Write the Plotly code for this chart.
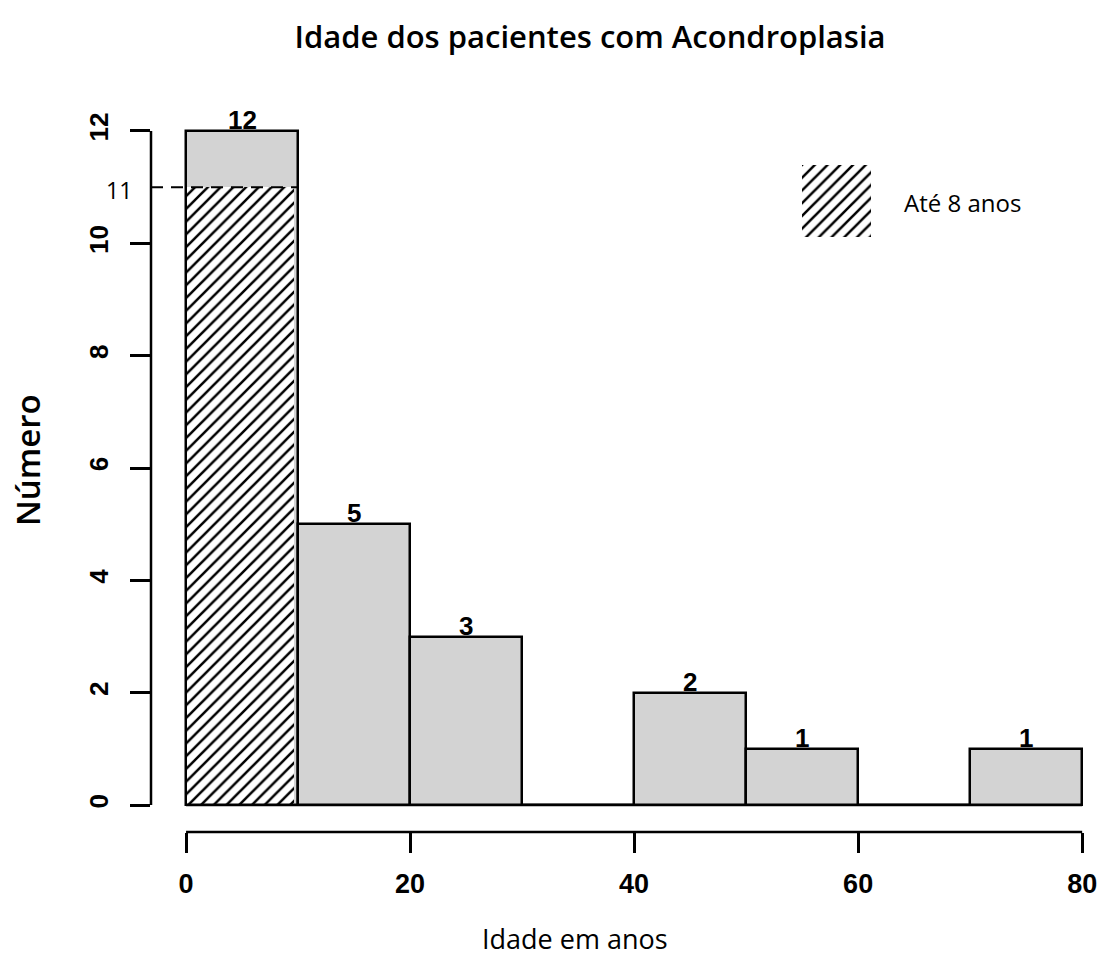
import plotly.graph_objects as go

# ---- data ----
bin_left = [0, 10, 20, 30, 40, 50, 60, 70]
bin_width = 10
counts = [12, 5, 3, 0, 2, 1, 0, 1]
hatched_count = 11          # patients up to 8 years (inside first bin)
x_ticks = [0, 20, 40, 60, 80]
y_ticks = [0, 2, 4, 6, 8, 10, 12]
title_text = "Idade dos pacientes com Acondroplasia"
x_title = "Idade em anos"
y_title = "Número"
legend_text = "Até 8 anos"

# ---- layout constants ----
W, H = 1099, 968
ML, MR, MT, MB = 151, 9, 104, 136
PW, PH = W - ML - MR, H - MT - MB
x_range = [-3.13, 80.7]
y_range = [-0.48, 12.48]
GRAY = "#d3d3d3"
LW = 2.5

centers = [l + bin_width / 2 for l in bin_left]

def xp(v):
    return (v - x_range[0]) / (x_range[1] - x_range[0])

def yp(v):
    return (v - y_range[0]) / (y_range[1] - y_range[0])

def px_x(p):
    return (p - ML) / PW

def px_y(p):
    return (H - MB - p) / PH

HATCH = dict(shape="/", fgcolor="#000000", bgcolor="#ffffff", fgopacity=1,
             size=9, solidity=0.28, fillmode="replace")

fig = go.Figure()

# gray fill
fig.add_trace(go.Bar(x=centers, y=counts, width=[bin_width] * len(counts),
                     marker=dict(color=GRAY, line=dict(width=0)),
                     showlegend=False, hoverinfo="skip"))
# hatched part of first bin
fig.add_trace(go.Bar(x=[centers[0]], y=[hatched_count], width=[bin_width * 0.96],
                     offset=-bin_width / 2,
                     marker=dict(color="#ffffff", line=dict(width=0), pattern=HATCH),
                     showlegend=False, hoverinfo="skip"))
# outlines
fig.add_trace(go.Bar(x=centers, y=counts, width=[bin_width] * len(counts),
                     marker=dict(color="rgba(0,0,0,0)", line=dict(width=LW, color="black")),
                     showlegend=False, hoverinfo="skip"))

# legend glyph on its own small axes
fig.add_trace(go.Bar(x=[0], y=[1], width=[1], xaxis="x2", yaxis="y2",
                     marker=dict(color="#ffffff", line=dict(width=0), pattern=HATCH),
                     showlegend=False, hoverinfo="skip"))

shapes = [
    # baseline
    dict(type="line", xref="paper", yref="paper", x0=xp(bin_left[0]), x1=xp(bin_left[-1] + bin_width),
         y0=yp(0), y1=yp(0), line=dict(color="black", width=LW), layer="below"),
    # x axis line
    dict(type="line", xref="paper", yref="paper", x0=xp(x_ticks[0]), x1=xp(x_ticks[-1]),
         y0=0, y1=0, line=dict(color="black", width=LW)),
    # y axis line
    dict(type="line", xref="paper", yref="paper", x0=0, x1=0,
         y0=yp(y_ticks[0]), y1=yp(y_ticks[-1]), line=dict(color="black", width=LW)),
    # dashed reference line at 11
    dict(type="line", xref="paper", yref="paper", x0=0, x1=xp(bin_left[0] + bin_width),
         y0=yp(hatched_count), y1=yp(hatched_count),
         line=dict(color="black", width=2, dash="12px,8px")),
]

annotations = []
for c, v in zip(centers, counts):
    if v > 0:
        annotations.append(dict(x=c, y=v, xref="x", yref="y", text=str(v), showarrow=False,
                                yanchor="bottom", yshift=-6,
                                font=dict(family="Liberation Sans, Arial", size=26, color="black",
                                          weight="bold")))
annotations += [
    dict(x=0, y=hatched_count, xref="paper", yref="y", text=str(hatched_count), showarrow=False,
         xanchor="right", yanchor="middle", xshift=-17, yshift=-3,
         font=dict(family="Open Sans", size=23, color="black")),
    dict(x=px_x(27), y=px_y(460), xref="paper", yref="paper",
         xanchor="center", yanchor="middle",
         text=y_title, textangle=-90, showarrow=False,
         font=dict(family="Open Sans", size=33, color="black", weight=600)),
    dict(x=px_x(575), y=px_y(938), xref="paper", yref="paper",
         xanchor="center", yanchor="middle",
         text=x_title, showarrow=False,
         font=dict(family="Open Sans", size=27, color="black", weight=500)),
    dict(x=px_x(902), y=px_y(203), xref="paper", yref="paper",
         text=legend_text, showarrow=False, xanchor="left", yanchor="middle",
         font=dict(family="Open Sans", size=24, color="black", weight=500)),
]

fig.update_layout(
    template="none",
    width=W, height=H,
    margin=dict(l=ML, r=MR, t=MT, b=MB, autoexpand=False),
    paper_bgcolor="white", plot_bgcolor="white",
    barmode="overlay", bargap=0,
    title=dict(text=title_text, xref="container", yref="container",
               x=590 / W, y=1 - 37 / H, xanchor="center", yanchor="middle",
               font=dict(family="Open Sans", size=31, color="black", weight=600)),
    xaxis=dict(range=x_range, tickvals=x_ticks, ticks="outside", ticklen=20, tickwidth=LW,
               tickcolor="black", showgrid=False, zeroline=False, showline=False,
               automargin=False,
               ticklabelstandoff=8, ticklabeloverflow="allow",
               tickfont=dict(family="Liberation Sans, Arial", size=27, color="black",
                             weight="bold")),
    yaxis=dict(range=y_range, tickvals=y_ticks, ticks="outside", ticklen=20, tickwidth=LW,
               tickcolor="black", showgrid=False, zeroline=False, showline=False,
               automargin=False,
               tickangle=-90, ticklabelstandoff=12,
               tickfont=dict(family="Liberation Sans, Arial", size=26, color="black",
                             weight="bold")),
    xaxis2=dict(domain=[px_x(802), px_x(871)],
                range=[-0.5, 0.5], visible=False, anchor="y2", fixedrange=True),
    yaxis2=dict(domain=[px_y(237), px_y(165)],
                range=[0, 1], visible=False, anchor="x2", fixedrange=True),
    shapes=shapes,
    annotations=annotations,
)

fig.write_html("out.html")
